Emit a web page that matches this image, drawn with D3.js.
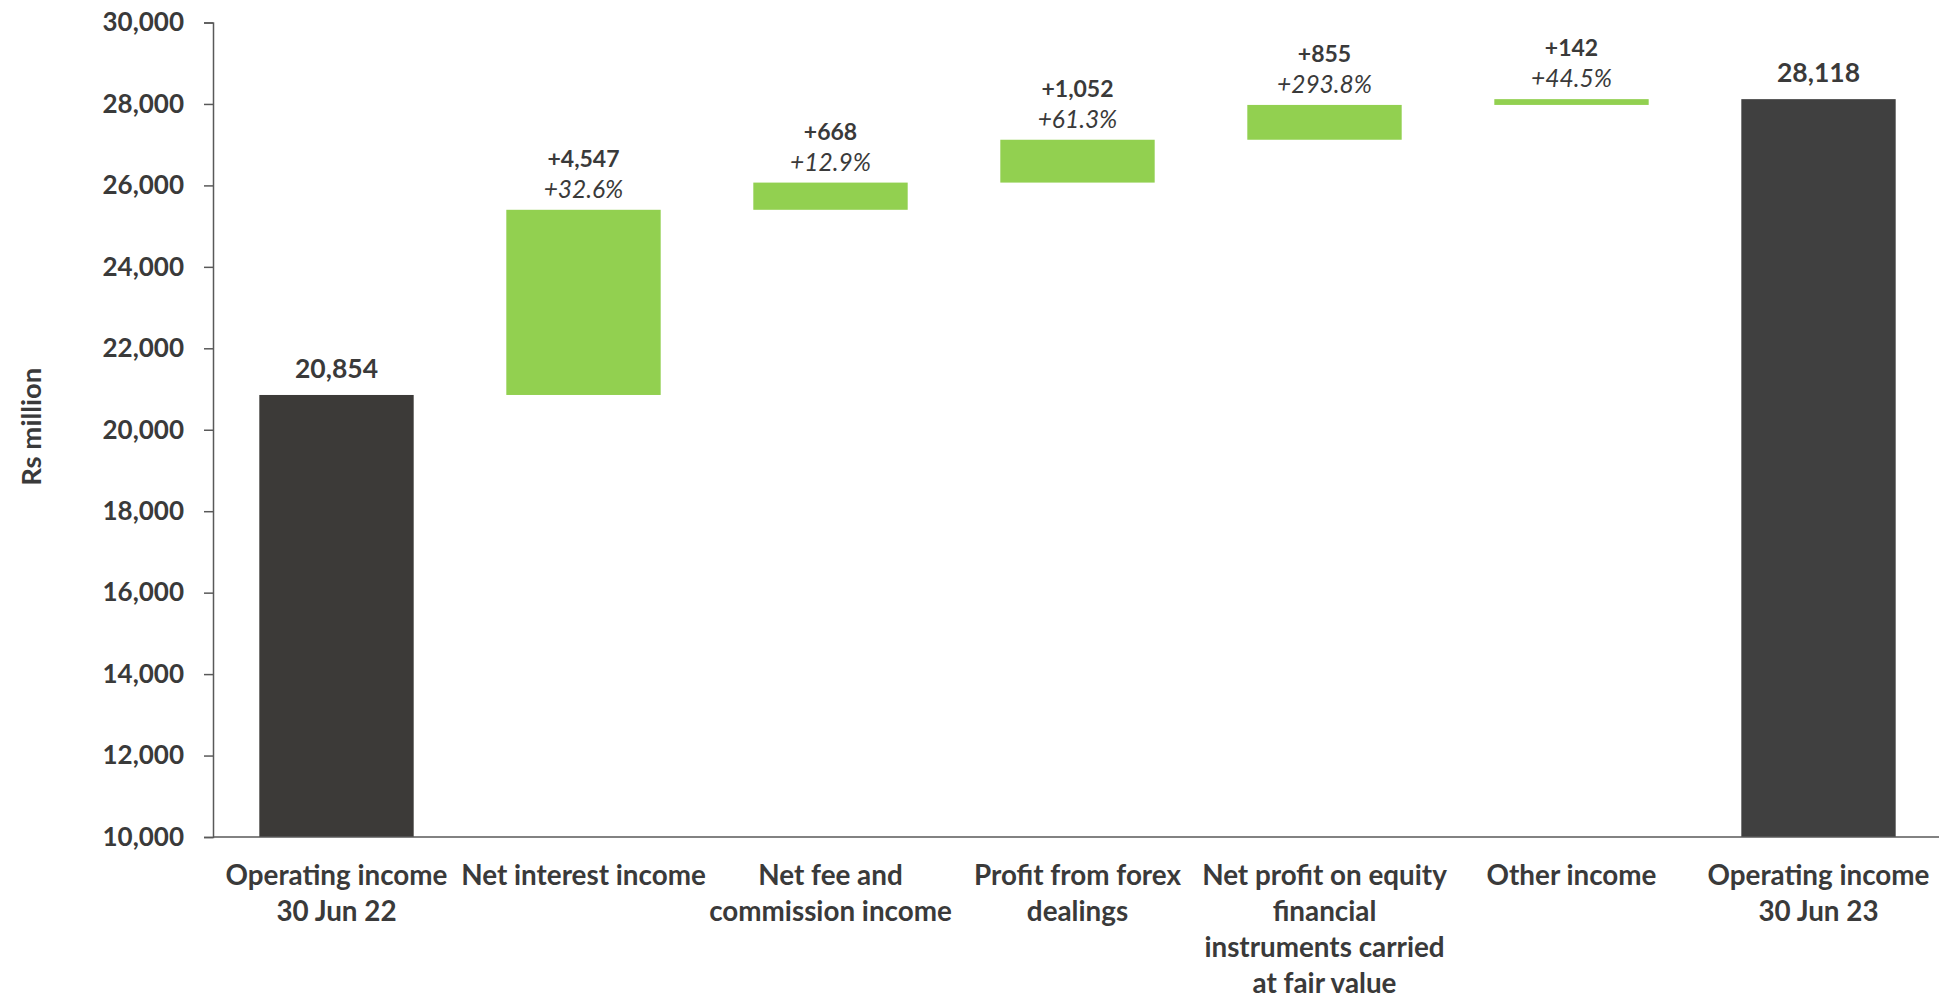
<!DOCTYPE html>
<html>
<head>
<meta charset="utf-8">
<script src="https://cdn.jsdelivr.net/npm/d3@7"></script>
<style>
  body { margin: 0; background: #fff; }
  text { font-family: Lato, "Open Sans", sans-serif; fill: #3a3a3a; }
</style>
</head>
<body>
<div id="plot"></div>
<script>
// chart data
const categories = [
  "Operating income\n30 Jun 22",
  "Net interest income",
  "Net fee and\ncommission income",
  "Profit from forex\ndealings",
  "Net profit on equity\nfinancial\ninstruments carried\nat fair value",
  "Other income",
  "Operating income\n30 Jun 23"
];
const values = [20854, 4547, 668, 1052, 855, 142, 28118];
const isTotal = [true, false, false, false, false, false, true];
const pctLabels = ["", "+32.6%", "+12.9%", "+61.3%", "+293.8%", "+44.5%", ""];
const yTicks = [10000, 12000, 14000, 16000, 18000, 20000, 22000, 24000, 26000, 28000, 30000];

const width = 1939,
  height = 997;
const margin = { top: 22.5, right: -3, bottom: 160, left: 213 };

const svg = d3.select("#plot").append("svg").attr("width", width).attr("height", height);

// waterfall steps
let running = 0;
const bars = values.map((v, i) => {
  let lo, hi;
  if (isTotal[i]) {
    lo = 10000;
    hi = v;
    running = v;
  } else {
    lo = running;
    hi = running + v;
    running = hi;
  }
  return { cat: categories[i], v, lo, hi, total: isTotal[i], pct: pctLabels[i] };
});

const x = d3
  .scaleBand()
  .domain(categories)
  .range([margin.left, width - margin.right])
  .paddingInner(0.375)
  .paddingOuter(0.1875);

const y = d3
  .scaleLinear()
  .domain([10000, 30000])
  .range([height - margin.bottom, margin.top]);

// y axis
const yAxis = svg
  .append("g")
  .attr("transform", `translate(${margin.left},0)`)
  .call(d3.axisLeft(y).tickValues(yTicks).tickFormat(d3.format(",")).tickSize(9).tickPadding(20));
yAxis.select(".domain").attr("stroke", "#595959").attr("stroke-width", 1.5);
yAxis.selectAll(".tick line").attr("stroke", "#595959").attr("stroke-width", 1.5);
yAxis.selectAll(".tick text").style("font-size", "26px").style("font-weight", 700).attr("fill", "#3a3a3a");

// bars
svg
  .append("g")
  .selectAll("rect")
  .data(bars)
  .join("rect")
  .attr("x", (d) => x(d.cat))
  .attr("width", x.bandwidth())
  .attr("y", (d) => y(d.hi))
  .attr("height", (d) => y(d.lo) - y(d.hi))
  .attr("fill", (d, i) => (d.total ? (i === 0 ? "#3c3a38" : "#404040") : "#92d050"));

// x axis line
svg
  .append("line")
  .attr("x1", margin.left)
  .attr("x2", width)
  .attr("y1", y(10000))
  .attr("y2", y(10000))
  .attr("stroke", "#595959")
  .attr("stroke-width", 1.5);

// value labels
const lbl = svg.append("g").attr("text-anchor", "middle");
bars.forEach((d) => {
  const cx = x(d.cat) + x.bandwidth() / 2;
  if (d.total) {
    lbl
      .append("text")
      .attr("x", cx)
      .attr("y", y(d.hi) - 17)
      .style("font-size", "26.5px")
      .style("font-weight", 700)
      .text(d3.format(",")(d.v));
  } else {
    lbl
      .append("text")
      .attr("x", cx)
      .attr("y", y(d.hi) - 43)
      .style("font-size", "23px")
      .style("font-weight", 700)
      .text("+" + d3.format(",")(d.v));
    lbl
      .append("text")
      .attr("x", cx)
      .attr("y", y(d.hi) - 12)
      .style("font-size", "24.5px")
      .style("font-style", "italic")
      .text(d.pct);
  }
});

// category labels
const cats = svg.append("g").attr("text-anchor", "middle");
categories.forEach((c) => {
  const t = cats
    .append("text")
    .attr("x", x(c) + x.bandwidth() / 2)
    .attr("y", 885)
    .style("font-size", "27.8px")
    .style("font-weight", 700);
  c.split("\n").forEach((line, j) => {
    t.append("tspan").attr("x", x(c) + x.bandwidth() / 2).attr("dy", j === 0 ? 0 : 36).text(line);
  });
});

// y axis title
svg
  .append("text")
  .attr("transform", `translate(41,${(y(10000) + y(30000)) / 2 - 3}) rotate(-90)`)
  .attr("text-anchor", "middle")
  .style("font-size", "27.5px")
  .style("font-weight", 700)
  .text("Rs million");
</script>
</body>
</html>
